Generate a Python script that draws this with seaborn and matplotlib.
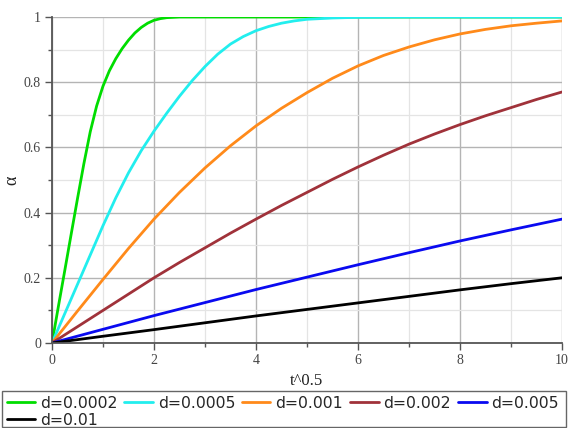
import numpy as np
import pandas as pd
import matplotlib
matplotlib.use("Agg")
import matplotlib.pyplot as plt
import seaborn as sns
from matplotlib.ticker import MultipleLocator
from matplotlib.patches import Rectangle

# ---- data ----
labels = ["d=0.0002", "d=0.0005", "d=0.001", "d=0.002", "d=0.005", "d=0.01"]

x_0002 = [0, 0.125, 0.25, 0.375, 0.5, 0.625, 0.75, 0.875, 1.0, 1.125, 1.25, 1.375,
          1.5, 1.625, 1.75, 1.875, 2.0, 2.125, 2.25, 2.375, 2.5, 3, 4, 6, 8, 10]
y_0002 = [0, 0.112, 0.222, 0.333, 0.443, 0.55, 0.648, 0.727, 0.788, 0.835, 0.872,
          0.903, 0.929, 0.951, 0.968, 0.981, 0.99, 0.995, 0.998, 0.999, 1.0, 1, 1, 1,
          1, 1]

x_0005 = [0, 0.25, 0.5, 0.75, 1, 1.25, 1.5, 1.75, 2, 2.25, 2.5, 2.75, 3, 3.25, 3.5,
          3.75, 4, 4.25, 4.5, 4.75, 5, 5.5, 6, 7, 8, 10]
y_0005 = [0, 0.09, 0.18, 0.27, 0.36, 0.445, 0.522, 0.59, 0.65, 0.705, 0.757, 0.805,
          0.848, 0.886, 0.917, 0.94, 0.958, 0.971, 0.981, 0.988, 0.993, 0.997, 0.999,
          1, 1, 1]

x_001 = [0, 0.5, 1, 1.5, 2, 2.5, 3, 3.5, 4, 4.5, 5, 5.5, 6, 6.5, 7, 7.5, 8, 8.5, 9,
         9.5, 10]
y_001 = [0, 0.098, 0.195, 0.29, 0.38, 0.462, 0.537, 0.605, 0.666, 0.72, 0.768, 0.812,
         0.85, 0.882, 0.908, 0.93, 0.948, 0.962, 0.973, 0.981, 0.988]

x_002 = [0, 0.5, 1, 1.5, 2, 2.5, 3, 3.5, 4, 4.5, 5, 5.5, 6, 6.5, 7, 7.5, 8, 8.5, 9,
         9.5, 10]
y_002 = [0, 0.05, 0.1, 0.15, 0.2, 0.247, 0.292, 0.337, 0.38, 0.422, 0.462, 0.502,
         0.54, 0.576, 0.61, 0.641, 0.67, 0.697, 0.722, 0.747, 0.77]

x_005 = [0, 1, 2, 3, 4, 5, 6, 7, 8, 9, 10]
y_005 = [0, 0.042, 0.084, 0.124, 0.164, 0.202, 0.24, 0.277, 0.313, 0.347, 0.38]

x_01 = [0, 1, 2, 3, 4, 5, 6, 7, 8, 9, 10]
y_01 = [0, 0.0207, 0.041, 0.062, 0.083, 0.103, 0.123, 0.143, 0.163, 0.182, 0.2]

xs = [x_0002, x_0005, x_001, x_002, x_005, x_01]
ys = [y_0002, y_0005, y_001, y_002, y_005, y_01]
colors = ["#00dd00", "#22eeee", "#ff8a1a", "#a0323a", "#0a0af0", "#000000"]

rows = []
for lab, xv_list, yv_list in zip(labels, xs, ys):
    for xv, yv in zip(xv_list, yv_list):
        rows.append({"x": xv, "y": yv, "d": lab})
df = pd.DataFrame(rows)

sns.set_theme(style="white")
fig = plt.figure(figsize=(5.68, 4.28), dpi=100)
ax = fig.add_axes([52/568, 1-343/428, 510/568, 326/428])

sns.lineplot(data=df, x="x", y="y", hue="d", palette=dict(zip(labels, colors)),
             hue_order=labels, linewidth=2.0, ax=ax, legend=False, sort=True,
             estimator=None)

ax.set_xlim(0, 10)
ax.set_ylim(0, 1)
ax.xaxis.set_minor_locator(MultipleLocator(1))
ax.yaxis.set_minor_locator(MultipleLocator(0.1))
ax.set_xticks([0, 2, 4, 6, 8, 10])
ax.set_xticklabels(["0", "2", "4", "6", "8", "10"])
ax.set_yticks([0, 0.2, 0.4, 0.6, 0.8, 1])
ax.set_yticklabels(["0", "0.2", "0.4", "0.6", "0.8", "1"])
ax.grid(which="major", color="#b4b4b4", linewidth=1.0)
ax.grid(which="minor", color="#e4e4e4", linewidth=0.9)
ax.set_axisbelow(True)
for s in ["top", "right"]:
    ax.spines[s].set_visible(False)
for s in ["left", "bottom"]:
    ax.spines[s].set_color("#555555")
    ax.spines[s].set_linewidth(1.3)
ax.tick_params(which="major", direction="out", length=5, width=1, color="#555555",
               left=True, bottom=True, labelsize=10, labelcolor="#444444", pad=3)
ax.tick_params(which="minor", direction="out", length=3, width=1, color="#555555",
               left=True, bottom=True)
for lbl in ax.get_xticklabels() + ax.get_yticklabels():
    lbl.set_family("Liberation Serif")

ax.set_xlabel("t^0.5", family="Liberation Serif", fontsize=12, color="#222222", labelpad=4)
ax.set_ylabel("α", family="Liberation Serif", fontsize=13, color="#222222")
ax.yaxis.label.set_va("center")
ax.yaxis.set_label_coords(-0.078, 0.5)

handles = [plt.Line2D([], [], color=c, linewidth=2) for c in colors]
order = [0, 5, 1, 2, 3, 4]
leg = fig.legend([handles[i] for i in order], [labels[i] for i in order],
                 loc="upper left", bbox_to_anchor=(5/568, 1-394/428),
                 bbox_transform=fig.transFigure, ncol=5,
                 frameon=False, fontsize=11.3, handlelength=1.8,
                 handletextpad=0.32, borderpad=0.1, labelspacing=0.15,
                 borderaxespad=0, columnspacing=0.45)
fig.patches.append(Rectangle((2/568, 1/428), 564/568, 36/428,
                             transform=fig.transFigure, fill=False,
                             edgecolor="#666666", linewidth=1.0))

fig.savefig("out.png", dpi=100)
